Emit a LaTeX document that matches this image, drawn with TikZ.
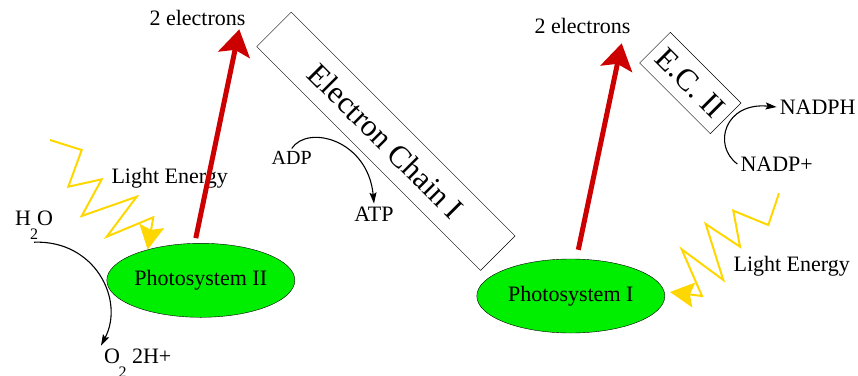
\documentclass[tikz,border=0pt]{standalone}
\usepackage{fontspec}
\setmainfont{Liberation Serif}
\usetikzlibrary{arrows.meta,shapes.geometric}
\definecolor{psgreen}{HTML}{00EE00}
\definecolor{elred}{HTML}{CC0000}
\definecolor{sunyellow}{HTML}{FFD700}

\begin{document}
\begin{tikzpicture}[x=1pt,y=-1pt,
  lbl/.style={font=\fontsize{22}{26}\selectfont,inner sep=3pt},
  photo/.style={draw,ellipse,fill=psgreen,minimum width=188pt,minimum height=74pt,inner sep=0pt,font=\fontsize{22}{26}\selectfont},
  chain/.style={draw,rotate=-45,inner sep=0pt,font=\fontsize{31}{36}\selectfont},
  elec/.style={draw=elred,line width=5pt,-{Stealth[length=26pt,width=32pt,inset=5pt]}},
  light/.style={draw=sunyellow,line width=2pt,-{Stealth[length=24pt,width=25pt,inset=4pt]}},
  react/.style={draw,line width=1.1pt,-{Stealth[length=11pt,width=7pt,inset=2pt]}}]
\useasboundingbox (0,0) rectangle (858,375);
\node[photo] (ps2) at (200.8,280.3) {Photosystem II};
\node[photo] (ps1) at (570.8,296) {Photosystem I};
\node[chain,minimum width=316.5pt,minimum height=48.8pt] (ec1) at (385.9,141.3) {Electron Chain I};
\node[chain,minimum width=100pt,minimum height=43.4pt] (ec2) at (690.3,83) {E.C. II};
\node[lbl,inner sep=0pt] (el2) at (197.5,17.5) {2 electrons};
\node[lbl,inner sep=0pt] (el1) at (582.5,26) {2 electrons};
\node[lbl,inner sep=0pt] (le2) at (169.7,178) {Light Energy};
\node[lbl,inner sep=0pt] (le1) at (791.7,266.6) {Light Energy};
\node[lbl,anchor=base west] (h2o) at (12,225) {H\kern-1pt\raisebox{-14pt}{\fontsize{16}{18}\selectfont 2}\kern-1pt O};
\node[lbl,anchor=base west] (o2) at (101,363.3) {O\kern-1.5pt\raisebox{-14pt}{\fontsize{16}{18}\selectfont 2} 2H+};
\node[lbl,font=\fontsize{20}{24}\selectfont] (adp) at (291.7,158.3) {ADP};
\node[lbl] (atp) at (374,214) {ATP};
\node[lbl] (nadph) at (817.7,107) {NADPH};
\node[lbl] (nadpp) at (776.7,164) {NADP+};
\coordinate (tip2) at (239.3,29.3);
\coordinate (tip1) at (621.7,43.3);
\draw[elec] ([xshift=-5pt,yshift=5pt]ps2.north) -- (tip2);
\draw[elec] ([xshift=7.5pt,yshift=9pt]ps1.north) -- (tip1);
\draw[light] (50,140) -- (81.7,150) -- (68.3,186.7) -- (101.7,179.3) -- (81.7,216) -- (136.7,196.7) -- (106.7,236.7) -- (153.3,217.3) -- (ps2.150);
\draw[light] (779,193.3) -- (768.3,225) -- (733.3,210.7) -- (740,246.7) -- (705.7,224) -- (723.3,280) -- (681.7,249.3) -- (702,296) -- ([xshift=5pt,yshift=4pt]ps1.east);
\draw[react] (h2o.south) .. controls (95,240) and (125,300) .. (o2.north west);
\draw[react] (adp.north) .. controls (308,124) and (368,140) .. (atp.north);
\draw[react] (nadpp.west) .. controls (712,145) and (725,102) .. (nadph.west);
\end{tikzpicture}
\end{document}
